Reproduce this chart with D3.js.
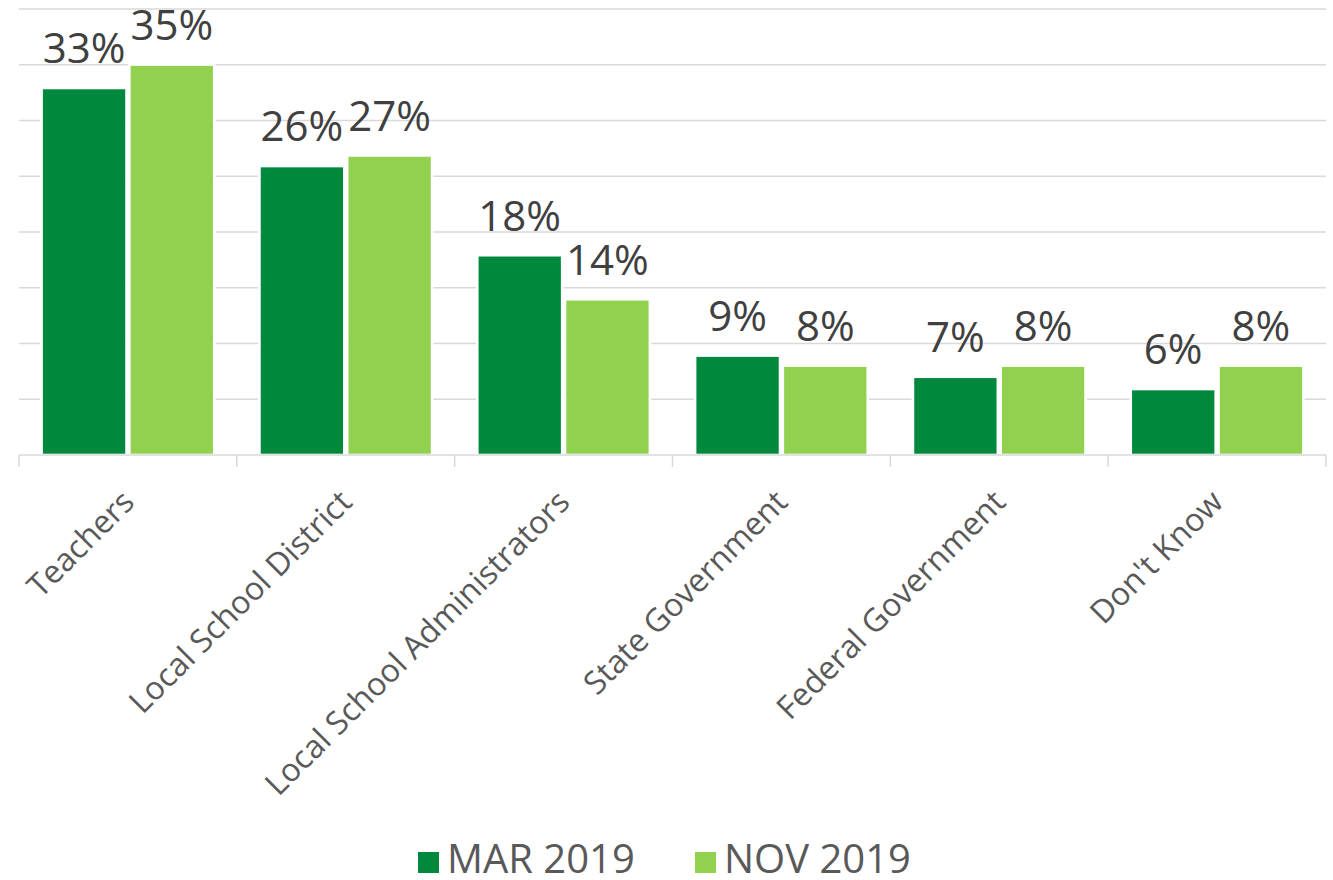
<!DOCTYPE html>
<html>
<head>
<meta charset="utf-8">
<script src="https://cdn.jsdelivr.net/npm/d3@7"></script>
<style>
  html, body { margin: 0; padding: 0; background: #ffffff; }
  svg { display: block; }
  text { font-family: "Open Sans", "Noto Sans", sans-serif; }
</style>
</head>
<body>
<svg id="chart" width="1333" height="880"></svg>
<script>
// ---- data ----
const categories = ["Teachers", "Local School District", "Local School Administrators", "State Government", "Federal Government", "Don't Know"];
const seriesNames = ["MAR 2019", "NOV 2019"];
const mar2019 = [32.8, 25.8, 17.8, 8.8, 6.9, 5.8];
const nov2019 = [34.9, 26.75, 13.85, 7.9, 7.9, 7.9];
const gridTicks = [5, 10, 15, 20, 25, 30, 35, 40];
const seriesColors = ["#00893d", "#92d050"];

const seriesValues = [mar2019, nov2019];

// ---- layout ----
const svg = d3.select("#chart");
const plot = { left: 19, right: 1326, top: 9, bottom: 455 };

const x0 = d3.scaleBand().domain(categories).range([plot.left, plot.right]).padding(0);
const B = x0.bandwidth();
const x1 = d3.scaleBand().domain(seriesNames).range([22.6, B - 22.6]).paddingInner(0.032).paddingOuter(0);
const y = d3.scaleLinear().domain([0, 40]).range([plot.bottom, plot.top]);

// gridlines
svg.append("g").selectAll("line").data(gridTicks).join("line")
  .attr("x1", plot.left).attr("x2", plot.right)
  .attr("y1", d => y(d)).attr("y2", d => y(d))
  .attr("stroke", "#d9d9d9").attr("stroke-width", 1.5);

// bars
const sw = 2.6;
const groups = svg.append("g").selectAll("g").data(categories).join("g")
  .attr("transform", d => `translate(${x0(d)},0)`);

groups.each(function(cat, ci) {
  const g = d3.select(this);
  seriesNames.forEach((s, si) => {
    const v = seriesValues[si][ci];
    g.append("rect")
      .attr("x", x1(s))
      .attr("y", y(v) - sw / 2)
      .attr("width", x1.bandwidth())
      .attr("height", y(0) - y(v) + sw / 2)
      .attr("fill", seriesColors[si])
      .attr("stroke", "#ffffff")
      .attr("stroke-width", sw);
    g.append("text")
      .attr("x", x1(s) + x1.bandwidth() / 2)
      .attr("y", y(v) - 26)
      .attr("text-anchor", "middle")
      .attr("font-size", 42)
      .attr("fill", "#404040")
      .text(Math.round(v) + "%");
  });
});

// x axis line & ticks
const xAxis = d3.axisBottom(x0).tickSize(0).tickFormat("");
const axisG = svg.append("g").attr("transform", `translate(0,${plot.bottom})`).call(xAxis);
axisG.select(".domain").remove();
svg.append("line")
  .attr("x1", plot.left).attr("x2", plot.right)
  .attr("y1", plot.bottom).attr("y2", plot.bottom)
  .attr("stroke", "#d9d9d9").attr("stroke-width", 1.5);
const boundaries = categories.map(c => x0(c)).concat([plot.right]);
svg.append("g").selectAll("line").data(boundaries).join("line")
  .attr("x1", d => d).attr("x2", d => d)
  .attr("y1", plot.bottom).attr("y2", plot.bottom + 12)
  .attr("stroke", "#d9d9d9").attr("stroke-width", 1.5);

// category labels rotated
svg.append("g").selectAll("text").data(categories).join("text")
  .attr("transform", d => `translate(${x0(d) + B / 2 + 8},${504}) rotate(-45)`)
  .attr("text-anchor", "end")
  .attr("font-size", 32)
  .attr("fill", "#595959")
  .text(d => d);

// legend
const legendItems = [
  { name: seriesNames[0], color: seriesColors[0], x: 418 },
  { name: seriesNames[1], color: seriesColors[1], x: 695 }
];
const lg = svg.append("g").selectAll("g").data(legendItems).join("g")
  .attr("transform", d => `translate(${d.x},0)`);
lg.append("rect").attr("x", 0).attr("y", 852).attr("width", 21).attr("height", 21)
  .attr("fill", d => d.color);
lg.append("text").attr("x", 29).attr("y", 873)
  .attr("font-size", 40).attr("fill", "#595959")
  .text(d => d.name);
</script>
</body>
</html>
